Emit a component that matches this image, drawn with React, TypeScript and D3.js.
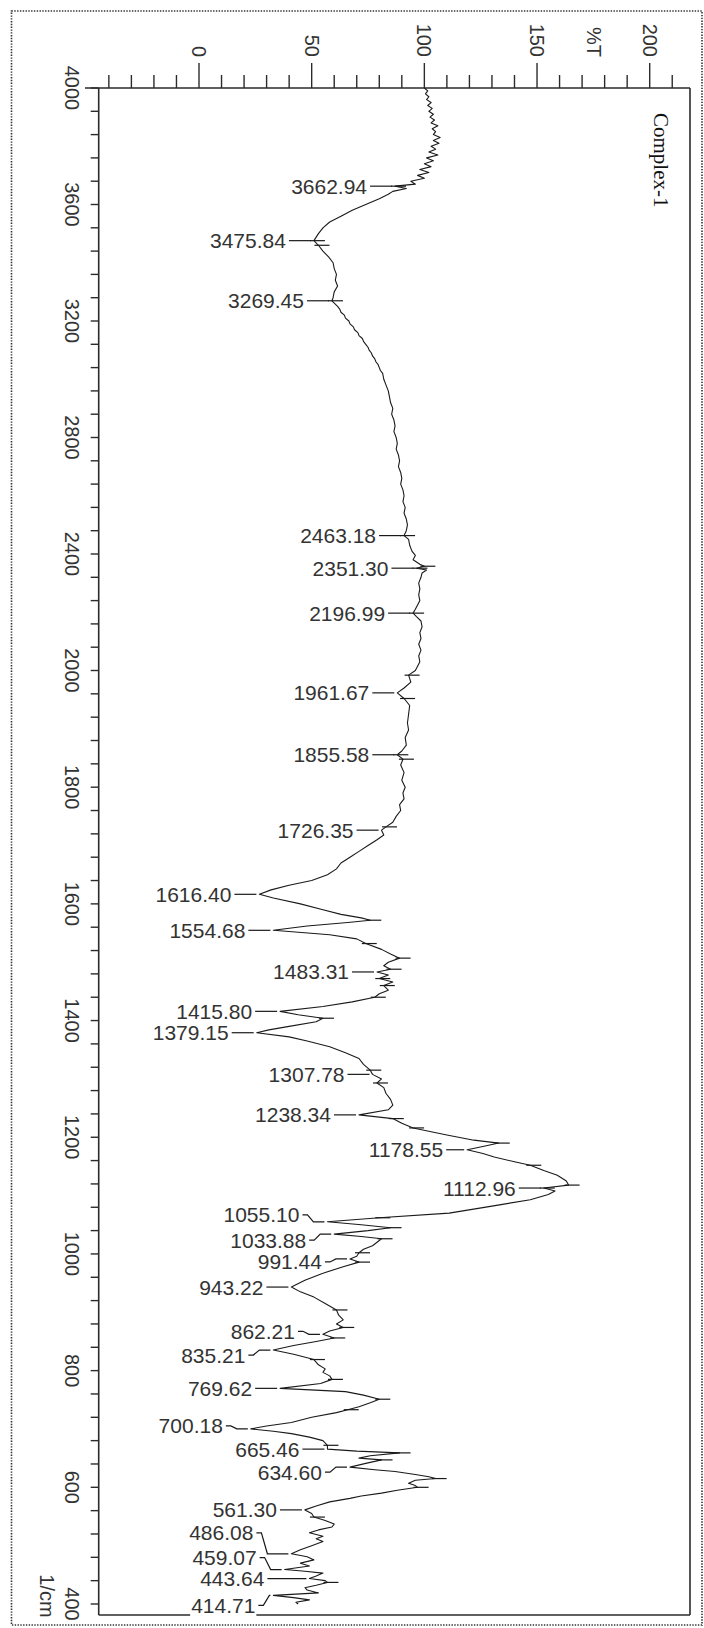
import React from 'react';
import * as d3 from 'd3';

// IR spectrum of Complex-1: wavenumber (1/cm) and transmittance (%T)
const wavenumbers = [
  4000, 3990, 3980, 3970, 3960, 3950, 3940, 3930, 3920, 3910, 3900, 3890, 3880, 3870, 3860, 3850,
  3840, 3830, 3820, 3810, 3800, 3790, 3780, 3770, 3760, 3750, 3740, 3730, 3720, 3710, 3700, 3690,
  3680, 3670, 3662.94, 3655, 3645, 3635, 3620, 3600, 3580, 3560, 3540, 3520, 3500, 3475.84, 3460,
  3440, 3420, 3400, 3380, 3360, 3340, 3320, 3300, 3280, 3269.45, 3250, 3240, 3230, 3220, 3210,
  3200, 3190, 3180, 3170, 3160, 3150, 3140, 3130, 3120, 3110, 3100, 3090, 3080, 3070, 3060, 3050,
  3040, 3030, 3020, 3000, 2980, 2960, 2940, 2920, 2900, 2880, 2860, 2840, 2820, 2800, 2780, 2760,
  2740, 2720, 2700, 2680, 2660, 2640, 2620, 2600, 2580, 2560, 2540, 2520, 2500, 2480, 2463.18,
  2450, 2430, 2410, 2395, 2380, 2365, 2358, 2351.3, 2345, 2335, 2320, 2300, 2280, 2260, 2240,
  2225, 2210, 2196.99, 2185, 2170, 2150, 2130, 2110, 2090, 2070, 2050, 2030, 2015, 2000, 1992,
  1980, 1970, 1961.67, 1952, 1940, 1925, 1910, 1898, 1885, 1872, 1862, 1855.58, 1848, 1838, 1825,
  1812, 1800, 1790, 1780, 1770, 1760, 1750, 1740, 1732, 1726.35, 1718, 1710, 1700, 1690, 1680,
  1670, 1660, 1650, 1640, 1632, 1624, 1616.4, 1610, 1600, 1590, 1582, 1576, 1572, 1568, 1562,
  1554.68, 1547, 1540, 1532, 1522, 1514, 1507, 1500, 1494, 1488, 1483.31, 1478, 1472, 1466, 1460,
  1452, 1446, 1440, 1432, 1424, 1415.8, 1410, 1404, 1398, 1390, 1384, 1379.15, 1372, 1365, 1355,
  1345, 1335, 1325, 1315, 1307.78, 1300, 1293, 1285, 1275, 1265, 1255, 1247, 1238.34, 1232, 1224,
  1216, 1204, 1195, 1190, 1185, 1178.55, 1172, 1166, 1158, 1152, 1143, 1135, 1125, 1118, 1112.96,
  1108, 1102, 1093, 1082, 1070, 1062, 1055.1, 1050, 1045, 1040, 1033.88, 1030, 1026, 1020, 1014,
  1008, 1002, 996, 991.44, 986, 978, 967, 955, 943.22, 935, 926, 915, 904, 895, 887, 880, 874, 868,
  862.21, 856, 850, 843, 835.21, 828, 819, 810, 803, 797, 791, 785, 778, 769.62, 764, 758, 751,
  745, 738, 733, 728, 720, 711, 705, 700.18, 696, 692, 686, 680, 672, 665.46, 662, 659, 654, 650,
  647, 641, 634.6, 630, 627, 622, 618, 615, 612, 607, 603, 600, 595, 590, 585, 581, 575, 568,
  561.3, 555, 549, 543, 537, 532, 527, 522, 516, 512, 507, 500, 493, 486.08, 481, 475.6, 470, 465,
  459.07, 456, 453, 448, 443.64, 440, 437, 432, 428, 424, 419, 414.71, 411, 407, 403, 400,
];

const transmittance = [
  100, 101.5, 100.5, 102, 101, 103, 101.5, 103.5, 102, 104, 102.5, 104.5, 103, 106, 103.5, 105,
  104, 107, 104, 106.5, 103, 105, 102, 106, 101, 104, 100, 103, 98, 102, 97, 100,
  94, 96, 87, 92, 86, 84, 80, 74, 68, 63, 58, 55, 53, 51, 53,
  55, 57.5, 59.5, 60, 61, 60.5, 61.5, 60, 59.5, 59, 61.5, 62.5, 63, 64.5, 65,
  66.5, 67, 68.5, 69, 70.5, 71, 72.5, 73, 74, 75, 75.5, 76.5, 77, 78, 78.5, 79.5,
  80, 80.5, 81.5, 82, 83, 84, 84.5, 85, 86, 85.5, 86.5, 87, 86.5, 87.5, 88, 87.5,
  88.5, 89, 88.5, 89.5, 90, 89.5, 90.5, 91, 90.5, 91.5, 91, 92, 92.5, 92, 91,
  93, 93.5, 94.5, 96, 95, 98, 100, 96.5, 101, 99, 98.5, 97.5, 98, 97.5, 98,
  97, 96, 95, 96.5, 98.5, 99, 98, 98.5, 97.5, 98.5, 97.5, 98, 97, 96, 93,
  94, 91, 88, 91, 93.5, 93, 92.5, 93, 91.5, 92, 90, 88, 90.5, 89.5, 91,
  90, 91.5, 90.5, 91, 89, 89.5, 87.5, 86, 83, 81, 82, 79, 75, 71, 67,
  63, 61, 57, 50, 40, 32, 26.8, 33, 45, 55, 63, 72, 76, 66, 48,
  33, 58, 70, 74, 81, 85, 89, 84, 82, 85, 79, 84, 80, 86, 82,
  84, 80, 78, 68, 55, 36, 44, 55, 52, 40, 31, 25.6, 40, 48, 58,
  65, 71, 73, 76, 77, 81, 79, 82, 83, 85, 86, 84, 71, 86, 90,
  95, 110, 122, 133, 127, 119, 126, 131, 140, 147, 153, 159, 163, 164, 153,
  158, 155, 147, 130, 111, 80, 57, 72, 85, 75, 60, 72, 81, 79, 77,
  73, 71, 70, 67, 71, 64, 55, 47, 41, 45, 51, 56, 61, 62, 64, 61, 64, 58,
  55, 60, 52, 42, 33, 42, 51, 53, 56, 55, 58, 59, 54, 36, 65, 73, 80,
  76, 71, 66, 61, 50, 41, 30, 23, 33, 41, 49, 55, 57, 57, 70, 89, 76, 71,
  81, 74, 67, 78, 87, 96, 102, 105, 96, 93, 96, 97, 88, 81, 72, 67, 58, 52,
  47, 50, 51, 56, 60, 59, 53, 49, 55, 52, 55, 50, 45, 41, 48, 51, 45, 49,
  38, 47, 55, 52, 49, 56, 57, 52, 47, 48, 53, 33, 42, 49, 43, 44,
];

// Labelled absorption bands (1/cm)
const peakLabels = [
  3662.94, 3475.84, 3269.45, 2463.18, 2351.3, 2196.99, 1961.67, 1855.58, 1726.35, 1616.4,
  1554.68, 1483.31, 1415.8, 1379.15, 1307.78, 1238.34, 1178.55, 1112.96, 1055.1, 1033.88,
  991.44, 943.22, 862.21, 835.21, 769.62, 700.18, 665.46, 634.6, 561.3, 486.08, 459.07,
  443.64, 414.71,
];

// Peak-pick markers drawn across the trace (1/cm)
const peakMarks = [
  3662.94, 3475.84, 3460, 3269.45, 2463.18, 2358, 2351.3, 2196.99, 1992, 1952, 1855.58, 1848,
  1732, 1572, 1532, 1507, 1488, 1472, 1460, 1440, 1404, 1315, 1293, 1232, 1216, 1190, 1152,
  1118, 1112.96, 1062, 1045, 1026, 1002, 986, 904, 874, 856, 819, 785, 751, 733, 672, 659, 647,
  615, 600, 549, 437,
];

const xTicksMajor = [0, 50, 100, 150, 200];
const yTicksMajor = [4000, 3600, 3200, 2800, 2400, 2000, 1800, 1600, 1400, 1200, 1000, 800, 600, 400];

// Label placement: vertical shift of the text from its band and leader length
const labelLayout: Record<string, { dy?: number; gap?: number }> = {
  '1055.10': { dy: -7 },
  '1033.88': { dy: 6 },
  '991.44': { dy: 3 },
  '862.21': { dy: -3 },
  '835.21': { dy: 5 },
  '700.18': { dy: -3 },
  '634.60': { dy: 5 },
  '486.08': { dy: -21, gap: 38 },
  '459.07': { dy: -12 },
  '443.64': { gap: 45 },
  '414.71': { dy: 10, gap: 18 },
  '1178.55': { gap: 24 },
};

const W = 704;
const H = 1628;
const frame = { left: 98.7, right: 690, top: 88, bottom: 1615 };
const ink = '#2b2b2b';
const sans = "'Liberation Sans', Arial, sans-serif";

const x = d3.scaleLinear().domain([0, 200]).range([199, 649.7]);
// Shimadzu-style abscissa: 2x expansion below 2000 1/cm
const y = d3.scaleLinear().domain([4000, 2000, 400]).range([88, 670.5, 1604]);

const points = wavenumbers.map((w, i) => [w, transmittance[i]] as [number, number]);
const ascending = [...points].sort((a, b) => a[0] - b[0]);
const bis = d3.bisector((d: [number, number]) => d[0]).left;
function tAt(w: number): number {
  const i = bis(ascending, w);
  if (i <= 0) return ascending[0][1];
  if (i >= ascending.length) return ascending[ascending.length - 1][1];
  const a = ascending[i - 1];
  const b = ascending[i];
  const f = (w - a[0]) / (b[0] - a[0]);
  return a[1] + f * (b[1] - a[1]);
}

const line = d3
  .line<[number, number]>()
  .x((d) => x(d[1]))
  .y((d) => y(d[0]));

const labelFont = 21;
function textWidth(s: string, size: number) {
  let w = 0;
  for (const c of s) w += c === '.' ? 0.278 : 0.556;
  return w * size;
}

export default function App() {
  const xMinor = d3.range(-40, 211, 10);
  const yMinor = [...d3.range(4000, 2000, -80), ...d3.range(2000, 399, -40)];

  return (
    <svg
      width={W}
      height={H}
      viewBox={`0 0 ${W} ${H}`}
      style={{ position: 'absolute', left: 0, top: 0, background: '#fff' }}
    >
      <rect x={0} y={0} width={W} height={H} fill="#fff" />
      <rect
        x={11.5}
        y={11}
        width={690.5}
        height={1614}
        fill="none"
        stroke="#333"
        strokeWidth={1.6}
        strokeDasharray="1.4 1.4"
      />

      {/* frame */}
      <line x1={85} x2={frame.right} y1={frame.top} y2={frame.top} stroke={ink} strokeWidth={1.6} />
      <line x1={frame.left} x2={frame.left} y1={frame.top} y2={frame.bottom} stroke={ink} strokeWidth={1.6} />
      <line x1={frame.right} x2={frame.right} y1={frame.top} y2={frame.bottom} stroke={ink} strokeWidth={1.6} />
      <line x1={frame.left} x2={frame.right} y1={frame.bottom} y2={frame.bottom} stroke={ink} strokeWidth={1.6} />

      {/* %T axis */}
      {xMinor.map((v) => {
        const major = v % 50 === 0;
        return (
          <line
            key={`xt${v}`}
            x1={x(v)}
            x2={x(v)}
            y1={frame.top}
            y2={frame.top - (major ? 25 : 13)}
            stroke={ink}
            strokeWidth={1.4}
          />
        );
      })}
      {xTicksMajor.map((v) => (
        <text
          key={`xl${v}`}
          transform={`translate(${x(v)},57) rotate(90)`}
          textAnchor="end"
          dominantBaseline="central"
          fontFamily={sans}
          fontSize={20}
          fill="#333"
        >
          {v}
        </text>
      ))}
      <text
        transform={`translate(${x(175.5)},57) rotate(90)`}
        textAnchor="end"
        dominantBaseline="central"
        fontFamily={sans}
        fontSize={20}
        fill="#333"
      >
        %T
      </text>

      {/* wavenumber axis */}
      {yMinor.map((v) => (
        <line
          key={`yt${v}`}
          x1={frame.left - 8}
          x2={frame.left}
          y1={y(v)}
          y2={y(v)}
          stroke={ink}
          strokeWidth={1.4}
        />
      ))}
      {yTicksMajor.map((v) => (
        <text
          key={`yl${v}`}
          transform={`translate(72,${y(v)}) rotate(90)`}
          textAnchor="middle"
          dominantBaseline="central"
          fontFamily={sans}
          fontSize={20}
          fill="#333"
        >
          {v}
        </text>
      ))}
      <text
        transform={`translate(47,1596) rotate(90)`}
        textAnchor="middle"
        dominantBaseline="central"
        fontFamily={sans}
        fontSize={20}
        fill="#333"
      >
        1/cm
      </text>

      <text
        transform={`translate(661,113) rotate(90)`}
        textAnchor="start"
        dominantBaseline="central"
        fontFamily="'Liberation Serif', 'Times New Roman', serif"
        fontSize={21}
        fill="#111"
      >
        Complex-1
      </text>

      {/* spectrum trace */}
      <path d={line(points) ?? ''} fill="none" stroke="#1a1a1a" strokeWidth={1.1} strokeLinejoin="round" />

      {/* peak markers */}
      {peakMarks.map((w) => {
        const cx = x(tAt(w));
        return (
          <line
            key={`pm${w}`}
            x1={cx - 4}
            x2={cx + 11}
            y1={y(w)}
            y2={y(w)}
            stroke="#1a1a1a"
            strokeWidth={1.2}
          />
        );
      })}

      {/* band labels */}
      {peakLabels.map((w) => {
        const label = w.toFixed(2);
        const lay = labelLayout[label] ?? {};
        const dy = lay.dy ?? 0;
        const gap = lay.gap ?? 28;
        const px = x(tAt(w));
        const py = y(w);
        const tx = px - gap;
        const ty = py + dy;
        const tw = textWidth(label, labelFont);
        const lead =
          dy === 0
            ? `M${tx + 3},${py}L${px - 3},${py}`
            : `M${tx + 3},${ty}L${tx + 8},${ty}L${tx + 14},${py}L${px - 3},${py}`;
        return (
          <g key={`pl${label}`}>
            <rect x={tx - tw - 1} y={ty - 11} width={tw + 2} height={22} fill="#fff" />
            <path d={lead} fill="none" stroke="#1a1a1a" strokeWidth={1.2} />
            <text
              x={tx}
              y={ty}
              textAnchor="end"
              dominantBaseline="central"
              fontFamily={sans}
              fontSize={labelFont}
              fill="#333"
            >
              {label}
            </text>
          </g>
        );
      })}
    </svg>
  );
}
